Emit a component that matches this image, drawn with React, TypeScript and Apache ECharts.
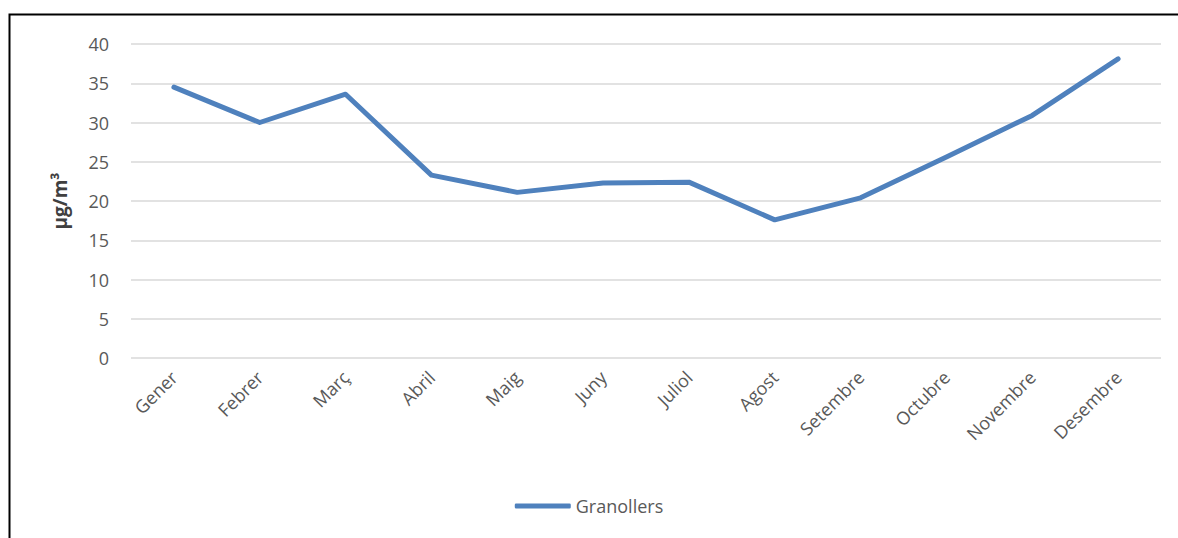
import React, { useEffect, useRef } from "react";
import * as echarts from "echarts";

const months = ["Gener", "Febrer", "Març", "Abril", "Maig", "Juny", "Juliol", "Agost", "Setembre", "Octubre", "Novembre", "Desembre"];
const granollers = [34.5, 30.0, 33.6, 23.3, 21.1, 22.3, 22.4, 17.6, 20.4, 25.6, 30.9, 38.1];
const seriesName = "Granollers";
const yAxisName = "µg/m³";

export default function App() {
  const ref = useRef<HTMLDivElement>(null);
  useEffect(() => {
    if (!ref.current) return;
    const chart = echarts.init(ref.current, null, { renderer: "svg" });
    const font = "'Open Sans', 'Noto Sans', sans-serif";
    chart.setOption({
      animation: false,
      backgroundColor: "#ffffff",
      textStyle: { fontFamily: font },
      graphic: [
        {
          type: "rect",
          shape: { x: 9.5, y: 14.5, width: 1300, height: 700 },
          style: { fill: "none", stroke: "#000000", lineWidth: 2 },
          silent: true,
        },
      ],
      grid: { left: 131, right: 17, top: 44, bottom: 180, containLabel: false },
      legend: {
        bottom: 18,
        left: "center",
        itemWidth: 56,
        itemHeight: 5,
        itemGap: 10,
        icon: "roundRect",
        textStyle: { fontSize: 18, color: "#595959", fontFamily: font },
        data: [{ name: seriesName, icon: "roundRect" }],
      },
      xAxis: {
        type: "category",
        data: months,
        boundaryGap: true,
        axisLine: { show: false },
        axisTick: { show: false },
        axisLabel: { rotate: 45, fontSize: 18, color: "#595959", margin: 16, interval: 0, fontFamily: font },
      },
      yAxis: {
        type: "value",
        min: 0,
        max: 40,
        interval: 5,
        name: yAxisName,
        nameLocation: "middle",
        nameGap: 62,
        nameRotate: 90,
        nameTextStyle: { fontSize: 19, fontWeight: "bold", color: "#404040", fontFamily: font },
        axisLine: { show: false },
        axisTick: { show: false },
        axisLabel: { fontSize: 18, color: "#595959", margin: 22, fontFamily: font },
        splitLine: { lineStyle: { color: "#d9d9d9", width: 1.5 } },
      },
      series: [
        {
          name: seriesName,
          type: "line",
          data: granollers,
          symbol: "none",
          lineStyle: { color: "#4f81bd", width: 5, cap: "round", join: "round" },
          itemStyle: { color: "#4f81bd" },
        },
      ],
    });
    return () => chart.dispose();
  }, []);
  return <div ref={ref} style={{ position: "fixed", left: 0, top: 0, width: 1178, height: 538 }} />;
}
